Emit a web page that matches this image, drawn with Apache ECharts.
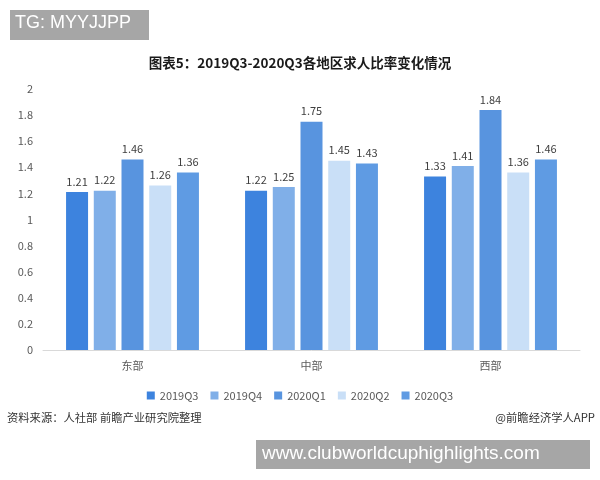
<!DOCTYPE html>
<html>
<head>
<meta charset="utf-8">
<script src="https://cdn.jsdelivr.net/npm/echarts@6/dist/echarts.min.js"></script>
<style>html,body{margin:0;padding:0;background:#fff;}#c{width:600px;height:480px;}</style>
</head>
<body>
<div id="c"></div>
<script>
var categories = ['东部', '中部', '西部'];
var seriesNames = ['2019Q3', '2019Q4', '2020Q1', '2020Q2', '2020Q3'];
var v2019Q3 = [1.21, 1.22, 1.33];
var v2019Q4 = [1.22, 1.25, 1.41];
var v2020Q1 = [1.46, 1.75, 1.84];
var v2020Q2 = [1.26, 1.45, 1.36];
var v2020Q3 = [1.36, 1.43, 1.46];
var yTicks = [0, 0.2, 0.4, 0.6, 0.8, 1, 1.2, 1.4, 1.6, 1.8, 2];

var values = [v2019Q3, v2019Q4, v2020Q1, v2020Q2, v2020Q3];
var colors = ['#3d83de', '#80afe8', '#5894df', '#c9dff7', '#5f9be3'];
var font = '"Microsoft YaHei", "Noto Sans CJK SC", sans-serif';

var chart = echarts.init(document.getElementById('c'), null, {renderer: 'canvas'});
var series = seriesNames.map(function (n, i) {
  return {
    name: n,
    type: 'bar',
    data: values[i],
    barWidth: 22,
    barGap: '26%',
    itemStyle: {color: colors[i]},
    label: {show: true, position: 'top', distance: 5, color: '#404040', fontSize: 11, fontFamily: font}
  };
});
chart.setOption({
  animation: false,
  backgroundColor: '#fff',
  title: {
    text: '图表5：2019Q3-2020Q3各地区求人比率变化情况',
    left: 'center', top: 51,
    textStyle: {fontSize: 13.5, fontWeight: 'bold', color: '#1a1a1a', fontFamily: font}
  },
  legend: {
    data: seriesNames,
    top: 385, left: 'center',
    itemWidth: 8, itemHeight: 8, itemGap: 12,
    icon: 'rect',
    textStyle: {fontSize: 11, color: '#595959', fontFamily: font}
  },
  grid: {left: 43, right: 20, top: 89, bottom: 130},
  xAxis: {
    type: 'category', data: categories,
    axisLine: {lineStyle: {color: '#d9d9d9'}},
    axisTick: {show: false},
    axisLabel: {color: '#595959', fontSize: 11, margin: 10, fontFamily: font}
  },
  yAxis: {
    type: 'value', min: 0, max: 2, interval: 0.2,
    splitLine: {show: false},
    axisLine: {show: false}, axisTick: {show: false},
    axisLabel: {color: '#595959', fontSize: 11, margin: 10, fontFamily: font,
      formatter: function (v) { var r = Math.round(v * 10) / 10; return yTicks.indexOf(r) >= 0 ? String(r) : ''; }}
  },
  series: series,
  graphic: [
    {type: 'rect', shape: {x: 10, y: 10, width: 139, height: 30}, style: {fill: '#a6a6a6'}},
    {type: 'text', left: 15, top: 14, style: {text: 'TG: MYYJJPP', fill: '#fff', font: '18px "Liberation Sans", Arial, sans-serif'}},
    {type: 'text', left: 7, top: 412, style: {text: '资料来源：人社部 前瞻产业研究院整理', fill: '#333', font: '11.3px ' + font}},
    {type: 'text', right: 5, top: 412, style: {text: '@前瞻经济学人APP', fill: '#333', font: '11.3px ' + font}},
    {type: 'rect', shape: {x: 256, y: 440, width: 334, height: 29}, style: {fill: '#a6a6a6'}},
    {type: 'text', left: 262, top: 444, style: {text: 'www.clubworldcuphighlights.com', fill: '#fff', font: '19px "Liberation Sans", Arial, sans-serif'}}
  ]
});
</script>
</body>
</html>
